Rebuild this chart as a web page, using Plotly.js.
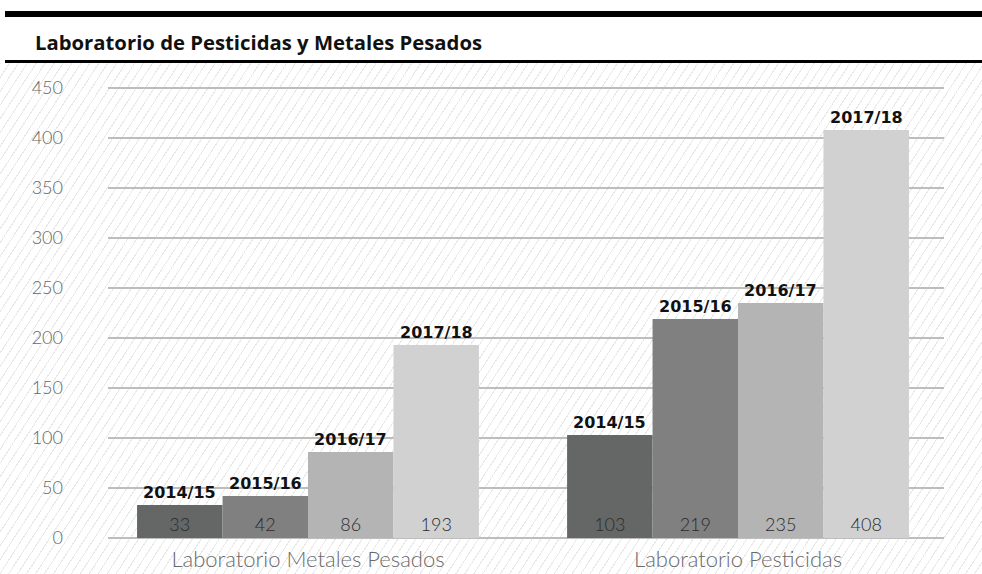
<!DOCTYPE html>
<html>
<head>
<meta charset="utf-8">
<script src="https://cdn.plot.ly/plotly-3.0.1.min.js"></script>
<style>
  html, body { margin: 0; padding: 0; background: #ffffff; }
  #wrap { position: relative; width: 982px; height: 574px; overflow: hidden; background: #ffffff; }
  #hatch { position: absolute; left: 0; top: 63px; width: 982px; height: 511px;
    background: repeating-linear-gradient(123deg, #e8e8e8 0px, #e8e8e8 1px, #ffffff 1px, #ffffff 7.5px); }
  #chart { position: absolute; left: 0; top: 0; width: 982px; height: 574px; }
</style>
</head>
<body>
<div id="wrap">
  <div id="hatch"></div>
  <div id="chart"></div>
</div>
<script>
const chartTitle = "Laboratorio de Pesticidas y Metales Pesados";
const categories = ["Laboratorio Metales Pesados", "Laboratorio Pesticidas"];
const seriesNames = ["2014/15", "2015/16", "2016/17", "2017/18"];
const values2014_15 = [33, 103];
const values2015_16 = [42, 219];
const values2016_17 = [86, 235];
const values2017_18 = [193, 408];
const seriesValues = [values2014_15, values2015_16, values2016_17, values2017_18];
const seriesColors = ["#656766", "#808080", "#b3b4b3", "#d1d1d1"];
const yTicks = [0, 50, 100, 150, 200, 250, 300, 350, 400, 450];

const bargap = 0.205;
const nSeries = seriesNames.length;
const barW = (1 - bargap) / nSeries;

const traces = seriesNames.map((name, i) => ({
  type: "bar",
  name: name,
  x: categories,
  y: seriesValues[i],
  marker: { color: seriesColors[i], line: { width: 0 } },
  text: seriesValues[i].map(String),
  textposition: "inside",
  insidetextanchor: "start",
  textangle: 0,
  constraintext: "none",
  insidetextfont: { family: "Lato, 'Open Sans', sans-serif", size: 18, color: "#2a2a2a", weight: 300 },
  hoverinfo: "skip"
}));

const annotations = [];
seriesNames.forEach((name, i) => {
  categories.forEach((cat, c) => {
    const xc = c - (1 - bargap) / 2 + (i + 0.5) * barW;
    annotations.push({
      x: xc, y: seriesValues[i][c], xref: "x", yref: "y",
      text: "<b>" + name + "</b>", showarrow: false,
      xanchor: "center", yanchor: "bottom", yshift: 1,
      font: { family: "'DejaVu Sans', Verdana, sans-serif", size: 16, color: "#111111" }
    });
  });
});

const layout = {
  width: 982, height: 574,
  margin: { l: 108, r: 38, t: 86, b: 36 },
  paper_bgcolor: "rgba(0,0,0,0)",
  plot_bgcolor: "rgba(0,0,0,0)",
  showlegend: false,
  barmode: "group",
  bargap: bargap,
  bargroupgap: 0,
  title: {
    text: "<b>" + chartTitle + "</b>",
    xref: "container", yref: "container",
    x: 35 / 982, xanchor: "left",
    y: 1 - 43 / 574, yanchor: "middle",
    font: { family: "'Open Sans', Lato, sans-serif", size: 20.3, color: "#111111" }
  },
  xaxis: {
    type: "category",
    range: [-0.4651, 1.479],
    showgrid: false, zeroline: false, showline: false, ticks: "",
    ticklabelstandoff: 6,
    tickfont: { family: "Lato, 'Open Sans', sans-serif", size: 22, color: "#6a6a6a", weight: 300 },
    fixedrange: true
  },
  yaxis: {
    range: [0, 452],
    tickvals: yTicks,
    ticktext: yTicks.map(String),
    showgrid: true, gridcolor: "#bdbdbd", gridwidth: 1.5,
    zeroline: true, zerolinecolor: "#bdbdbd", zerolinewidth: 1.5,
    showline: false, ticks: "",
    ticklabelstandoff: 44,
    tickfont: { family: "Lato, 'Open Sans', sans-serif", size: 18, color: "#666666", weight: 300 },
    fixedrange: true
  },
  shapes: [
    { type: "rect", xref: "paper", yref: "paper",
      x0: (5 - 108) / 836, x1: (982 - 108) / 836,
      y0: (538 - 17) / 452, y1: (538 - 11) / 452,
      fillcolor: "#000000", line: { width: 0 }, layer: "above" },
    { type: "rect", xref: "paper", yref: "paper",
      x0: (5 - 108) / 836, x1: (982 - 108) / 836,
      y0: (538 - 63) / 452, y1: (538 - 60) / 452,
      fillcolor: "#000000", line: { width: 0 }, layer: "above" }
  ],
  annotations: annotations
};

Plotly.newPlot("chart", traces, layout, { displayModeBar: false, staticPlot: true });
</script>
</body>
</html>
